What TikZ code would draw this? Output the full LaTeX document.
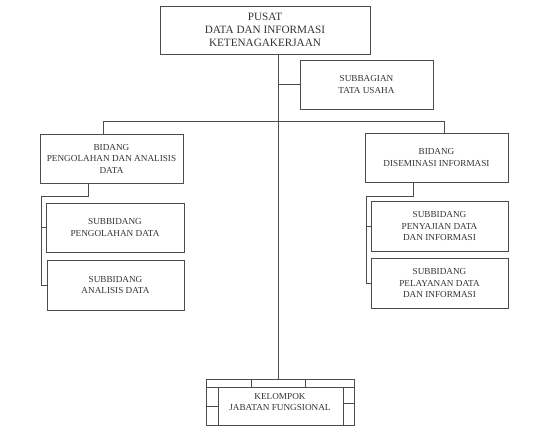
\documentclass[tikz,border=0pt]{standalone}
\usepackage{fontspec}
\setmainfont{Liberation Serif}
\usetikzlibrary{calc}

\tikzset{
	unitbox/.style={draw=black!70, line width=0.6pt, text=black!80, align=center,
		font=\fontsize{9.2}{11.5}\selectfont, inner sep=0pt},
	headbox/.style={unitbox, font=\fontsize{11.2}{13.3}\selectfont},
	link/.style={draw=black!70, line width=0.6pt}
}

\begin{document}
\begin{tikzpicture}[x=1pt, y=-1pt]

	\useasboundingbox (0,0) rectangle (543,426);

% Define boxes.

	%head
	\node [headbox, minimum width=210pt, minimum height=48pt] (pusat) at (265, 30)
		{PUSAT\\DATA DAN INFORMASI\\KETENAGAKERJAAN};
	\node [unitbox, minimum width=133pt, minimum height=49pt] (subbagian) at (366.5, 84.5)
		{SUBBAGIAN\\TATA USAHA};

	%left branch
	\node [unitbox, minimum width=143pt, minimum height=49pt] (bidangL) at (111.5, 158.5)
		{BIDANG\\PENGOLAHAN DAN ANALISIS\\DATA};
	\node [unitbox, minimum width=138pt, minimum height=49pt] (subL1) at (115, 227.5)
		{SUBBIDANG\\PENGOLAHAN DATA};
	\node [unitbox, minimum width=137pt, minimum height=50pt] (subL2) at (115.5, 285)
		{SUBBIDANG\\ANALISIS DATA};

	%right branch
	\node [unitbox, minimum width=143pt, minimum height=49pt] (bidangR) at (436.5, 157.5)
		{BIDANG\\DISEMINASI INFORMASI};
	\node [unitbox, minimum width=137pt, minimum height=50pt] (subR1) at (439.5, 226)
		{SUBBIDANG\\PENYAJIAN DATA\\DAN INFORMASI};
	\node [unitbox, minimum width=137pt, minimum height=50pt] (subR2) at (439.5, 283)
		{SUBBIDANG\\PELAYANAN DATA\\DAN INFORMASI};

	%functional group
	\node [unitbox, minimum width=148pt, minimum height=46pt] (kelompok) at (280, 402)
		{KELOMPOK\\JABATAN FUNGSIONAL};

% Define junctions.

	\coordinate (trunk) at (278, 121);
	\coordinate (leftDrop) at (103, 121);
	\coordinate (rightDrop) at (444, 121);
	\coordinate (leftBend) at (88, 196);
	\coordinate (leftRail) at (41, 196);
	\coordinate (rightBend) at (413, 196);
	\coordinate (rightRail) at (366, 196);

% Draw lines.

	\draw [link] (pusat.south -| trunk) -- (kelompok.north -| trunk);
	\draw [link] (trunk |- subbagian.west) -- (subbagian.west);
	\draw [link] (leftDrop |- bidangL.north) -- (leftDrop) -- (rightDrop) -- (rightDrop |- bidangR.north);

	\draw [link] (leftBend |- bidangL.south) -- (leftBend) -- (leftRail) -- (leftRail |- subL2.west) -- (subL2.west);
	\draw [link] (leftRail |- subL1.west) -- (subL1.west);

	\draw [link] (rightBend |- bidangR.south) -- (rightBend) -- (rightRail) -- (rightRail |- subR2.west) -- (subR2.west);
	\draw [link] (rightRail |- subR1.west) -- (subR1.west);

% Draw frame of the functional group.

	\draw [link] (206, 387) -- (354, 387);
	\draw [link] (218, 387) -- (218, 425);
	\draw [link] (343, 387) -- (343, 425);
	\draw [link] (251, 379) -- (251, 387);
	\draw [link] (305, 379) -- (305, 387);
	\draw [link] (206, 406) -- (218, 406);
	\draw [link] (343, 403) -- (354, 403);

\end{tikzpicture}
\end{document}
